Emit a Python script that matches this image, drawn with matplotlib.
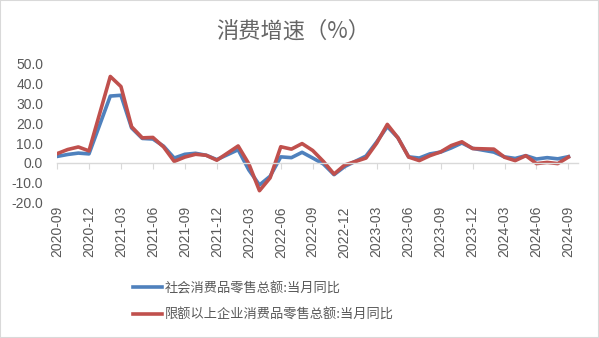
import matplotlib
matplotlib.use("Agg")
import matplotlib.pyplot as plt
from matplotlib.patches import Rectangle

plt.rcParams['font.family'] = ['Liberation Sans', 'Noto Sans CJK SC', 'DejaVu Sans']

# months with data (January is folded into February in the source statistics)
dates = ['2020-09', '2020-10', '2020-11', '2020-12',
         '2021-02', '2021-03', '2021-04', '2021-05', '2021-06', '2021-07',
         '2021-08', '2021-09', '2021-10', '2021-11', '2021-12',
         '2022-02', '2022-03', '2022-04', '2022-05', '2022-06', '2022-07',
         '2022-08', '2022-09', '2022-10', '2022-11', '2022-12',
         '2023-02', '2023-03', '2023-04', '2023-05', '2023-06', '2023-07',
         '2023-08', '2023-09', '2023-10', '2023-11', '2023-12',
         '2024-02', '2024-03', '2024-04', '2024-05', '2024-06', '2024-07',
         '2024-08', '2024-09']

retail_total = [3.3, 4.3, 5.0, 4.6,
                33.8, 34.2, 17.7, 12.4, 12.1, 8.5,
                2.5, 4.4, 4.9, 3.9, 1.7,
                6.7, -3.5, -11.1, -6.7, 3.1, 2.7,
                5.4, 2.5, -0.5, -5.9, -1.8,
                3.5, 10.6, 18.4, 12.7, 3.1, 2.5,
                4.6, 5.5, 7.6, 10.1, 7.4,
                5.5, 3.1, 2.3, 3.7, 2.0, 2.7,
                2.1, 3.2]

retail_above = [4.7, 6.8, 8.1, 6.1,
                43.7, 38.6, 18.3, 12.7, 12.9, 8.1,
                0.8, 3.0, 4.4, 3.9, 1.4,
                8.6, -0.4, -14.0, -7.5, 8.2, 7.0,
                9.8, 6.3, 0.8, -5.6, -1.0,
                2.5, 10.0, 19.5, 12.7, 3.0, 1.2,
                3.7, 5.6, 8.8, 10.7, 7.3,
                7.0, 2.9, 1.2, 3.7, -0.3, 0.3,
                -0.3, 3.0]

tick_labels = ['2020-09', '2020-12', '2021-03', '2021-06', '2021-09',
               '2021-12', '2022-03', '2022-06', '2022-09', '2022-12',
               '2023-03', '2023-06', '2023-09', '2023-12', '2024-03',
               '2024-06', '2024-09']

labels = ['社会消费品零售总额:当月同比', '限额以上企业消费品零售总额:当月同比']


def month_index(s):
    y, m = s.split('-')
    return (int(y) - 2020) * 12 + int(m) - 9


x = [month_index(d) for d in dates]
tick_pos = [month_index(d) for d in tick_labels]

grey = '#595959'
fig = plt.figure(figsize=(5.99, 3.38), dpi=100)
fig.patches.append(Rectangle((0, 0), 1, 1, transform=fig.transFigure,
                             fill=False, edgecolor='#D9D9D9', linewidth=1.5))

ax = fig.add_axes([0.0952, 0.4006, 0.8698, 0.4101])
for s in ['top', 'right', 'left']:
    ax.spines[s].set_visible(False)
ax.spines['bottom'].set_position(('data', 0))
ax.spines['bottom'].set_color('#D9D9D9')
ax.spines['bottom'].set_linewidth(1)

ax.plot(x, retail_total, color='#4F81BD', linewidth=2.6,
        solid_joinstyle='round', label=labels[0])
ax.plot(x, retail_above, color='#C0504D', linewidth=2.6,
        solid_joinstyle='round', label=labels[1])

ax.set_xlim(0, 48.9)
ax.set_ylim(-20, 50)
ax.set_yticks(range(-20, 51, 10))
ax.set_yticklabels([f'{v:.1f}' for v in range(-20, 51, 10)])
ax.set_xticks(tick_pos)
ax.set_xticklabels(tick_labels)

ax.tick_params(axis='y', length=0, pad=10, labelsize=10, labelcolor=grey)
ax.tick_params(axis='x', direction='out', length=4, color='#D9D9D9',
               pad=27, labelsize=10, labelcolor=grey, labelrotation=90)

fig.text(0.49, 0.908, '消费增速（%）', ha='center', va='center',
         fontsize=16, color='#666666', fontweight='light',
         family=['Noto Sans CJK SC', 'DejaVu Sans'])

leg = fig.legend(loc='center left', bbox_to_anchor=(0.222, 0.108),
                 frameon=False, handlelength=2.2, handletextpad=0.2,
                 labelspacing=1.0, borderpad=0, borderaxespad=0,
                 prop={'family': ['Noto Sans CJK SC', 'DejaVu Sans'], 'size': 9.5})
for t in leg.get_texts():
    t.set_color(grey)

fig.savefig('out.png', dpi=100)
